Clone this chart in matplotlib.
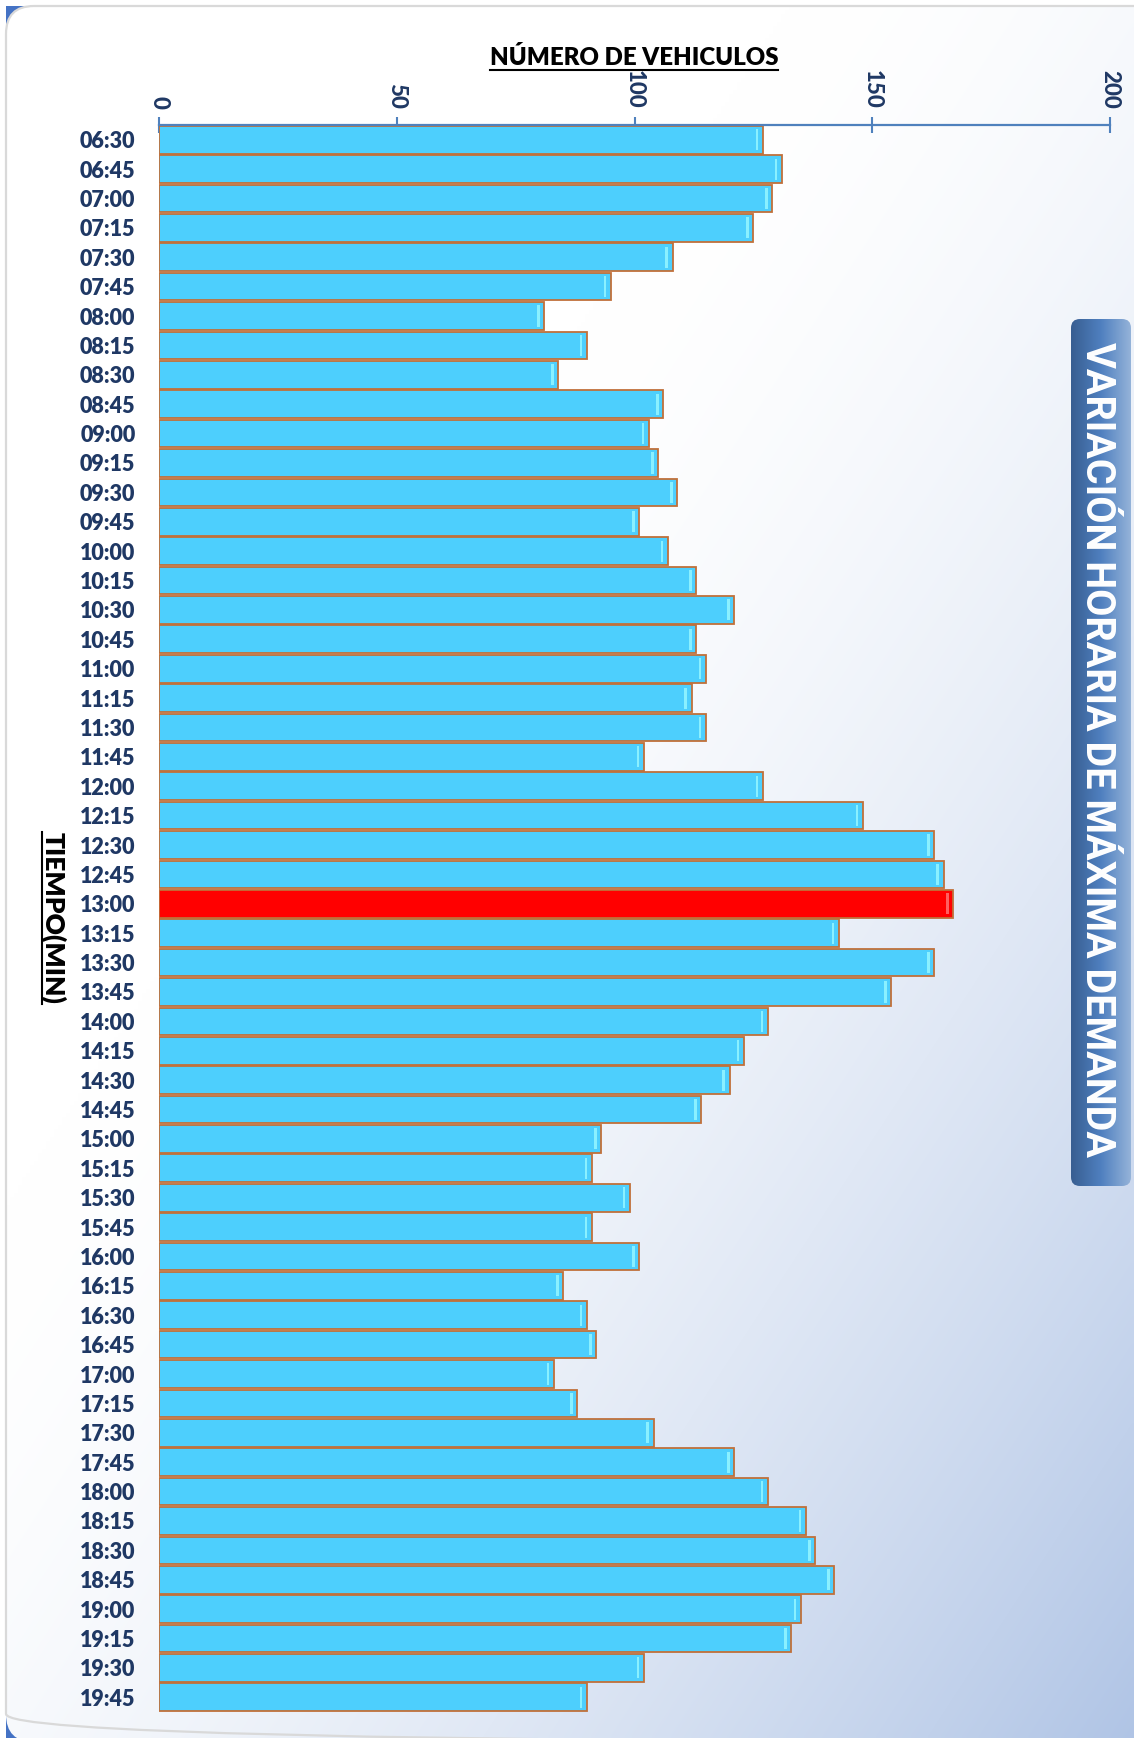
import numpy as np
import matplotlib
matplotlib.use("Agg")
import matplotlib.pyplot as plt
from matplotlib.patches import FancyBboxPatch, Rectangle
from matplotlib.lines import Line2D

# Quarter-hour intervals and vehicle counts
times = ["06:30", "06:45", "07:00", "07:15", "07:30", "07:45", "08:00", "08:15",
         "08:30", "08:45", "09:00", "09:15", "09:30", "09:45", "10:00", "10:15",
         "10:30", "10:45", "11:00", "11:15", "11:30", "11:45", "12:00", "12:15",
         "12:30", "12:45", "13:00", "13:15", "13:30", "13:45", "14:00", "14:15",
         "14:30", "14:45", "15:00", "15:15", "15:30", "15:45", "16:00", "16:15",
         "16:30", "16:45", "17:00", "17:15", "17:30", "17:45", "18:00", "18:15",
         "18:30", "18:45", "19:00", "19:15", "19:30", "19:45"]
vehicles = [127, 131, 129, 125, 108, 95, 81, 90,
            84, 106, 103, 105, 109, 101, 107, 113,
            121, 113, 115, 112, 115, 102, 127, 148,
            163, 165, 167, 143, 163, 154, 128, 123,
            120, 114, 93, 91, 99, 91, 101, 85,
            90, 92, 83, 88, 104, 121, 128, 136,
            138, 142, 135, 133, 102, 90]
peak_time = "13:00"
x_ticks = [0, 50, 100, 150, 200]

title = "VARIACIÓN HORARIA DE MÁXIMA DEMANDA"
x_title = "NÚMERO DE VEHICULOS"
y_title = "TIEMPO(MIN)"

W, H = 1134, 1738
TITLE_FONT = ["Roboto", "DejaVu Sans"]
LABEL = ["Lato", "DejaVu Sans"]
NAVY = "#1f3864"

fig = plt.figure(figsize=(W / 100, H / 100), dpi=100)
fig.patch.set_facecolor("white")

# Background panel in pixel coordinates
bg = fig.add_axes([0, 0, 1, 1], zorder=-10)
bg.set_xlim(0, W)
bg.set_ylim(H, 0)
bg.axis("off")

# Square frame behind the rounded panel (visible only at the corners)
bg.add_patch(Rectangle((6, 6), W + 40, H + 40, facecolor="#4472c4", edgecolor="none", zorder=0))

gy, gx = np.mgrid[0:H:4, 0:W:4]
t = (gx / W + gy / H) / 2.0
s = np.clip((t - 0.35) / 0.65, 0, 1) ** 1.6
c0 = np.array([1.0, 1.0, 1.0])
c1 = np.array([0.69, 0.77, 0.90])
grad = c0[None, None, :] * (1 - s[..., None]) + c1[None, None, :] * s[..., None]
panel = FancyBboxPatch((6, 6), W + 40, H - 2, boxstyle="round,pad=0,rounding_size=28",
                       facecolor="none", edgecolor="#d9d9d9", linewidth=1.6, zorder=2)
bg.add_patch(panel)
im = bg.imshow(grad, extent=(0, W, H, 0), interpolation="bilinear", zorder=1, aspect="auto")
im.set_clip_path(panel)

# Title banner on the right
bx0, bx1, by0, by1 = 1071, 1131, 319, 1186
banner = FancyBboxPatch((bx0, by0), bx1 - bx0, by1 - by0,
                        boxstyle="round,pad=0,rounding_size=9",
                        facecolor="none", edgecolor="none", zorder=3)
bg.add_patch(banner)
u = np.linspace(0, 1, 64)
stops = np.array([[0.22, 0.37, 0.57], [0.31, 0.50, 0.75], [0.58, 0.70, 0.85]])
band = np.where(u[:, None] < 0.5,
                stops[0] + (stops[1] - stops[0]) * (u[:, None] / 0.5),
                stops[1] + (stops[2] - stops[1]) * ((u[:, None] - 0.5) / 0.5))
bim = bg.imshow(band[None, :, :], extent=(bx0, bx1, by1, by0), interpolation="bilinear",
                zorder=3, aspect="auto")
bim.set_clip_path(banner)
bg.set_xlim(0, W)
bg.set_ylim(H, 0)
bg.text(1097, 750, title, rotation=-90, ha="center", va="center", color="white",
        fontsize=28.5, fontweight="bold", family=TITLE_FONT, zorder=4)

# Axis titles
xt = bg.text(634, 65, x_title, ha="center", va="baseline", color="black",
             fontsize=17.3, fontweight="heavy", family=LABEL, zorder=4)
yt = bg.text(53, 918, y_title, rotation=-90, ha="center", va="center", color="black",
             fontsize=19, fontweight="heavy", family=LABEL, zorder=4)

# Bar chart
ax = fig.add_axes([159 / W, 1 - 1712 / H, (1110 - 159) / W, (1712 - 125) / H])
ax.patch.set_alpha(0)
n = len(times)
ypos = np.arange(n)
vals = np.array(vehicles, dtype=float)
face = ["#ff0000" if tm == peak_time else "#4dcffd" for tm in times]
shine = ["#ff6060" if tm == peak_time else "#8af0ff" for tm in times]
ax.barh(ypos, vals, height=0.94, color=face, edgecolor="#c0703a", linewidth=1.3, zorder=2)
ax.barh(ypos, np.full(n, 0.55), left=vals - 1.5, height=0.72, color=shine,
        linewidth=0, zorder=3)

ax.set_xlim(x_ticks[0], x_ticks[-1])
ax.set_ylim(n - 0.5, -0.5)
ax.xaxis.tick_top()
ax.set_xticks(x_ticks)
ax.set_xticklabels([str(v) for v in x_ticks], rotation=-90, family=LABEL,
                   fontweight="black", fontsize=16, color=NAVY)
ax.tick_params(axis="x", direction="inout", length=11, width=1.5, color="#4f81bd", pad=6)
ax.set_yticks(ypos)
ax.set_yticklabels(times, family=LABEL, fontweight="heavy", fontsize=15.5, color=NAVY)
ax.tick_params(axis="y", length=0, pad=17)
for side in ("left", "right", "bottom"):
    ax.spines[side].set_visible(False)
ax.spines["top"].set_color("#4f81bd")
ax.spines["top"].set_linewidth(1.6)

# Underlines for the axis titles
fig.canvas.draw()
r = fig.canvas.get_renderer()
bb = xt.get_window_extent(r)
uy = H - bb.y0 + 1
bg.add_line(Line2D([bb.x0, bb.x1], [uy, uy], color="black", linewidth=1.5, zorder=4))
bb = yt.get_window_extent(r)
ux = bb.x0 + 2
bg.add_line(Line2D([ux, ux], [H - bb.y1, H - bb.y0], color="black", linewidth=1.5, zorder=4))

fig.savefig("out.png", dpi=100)
